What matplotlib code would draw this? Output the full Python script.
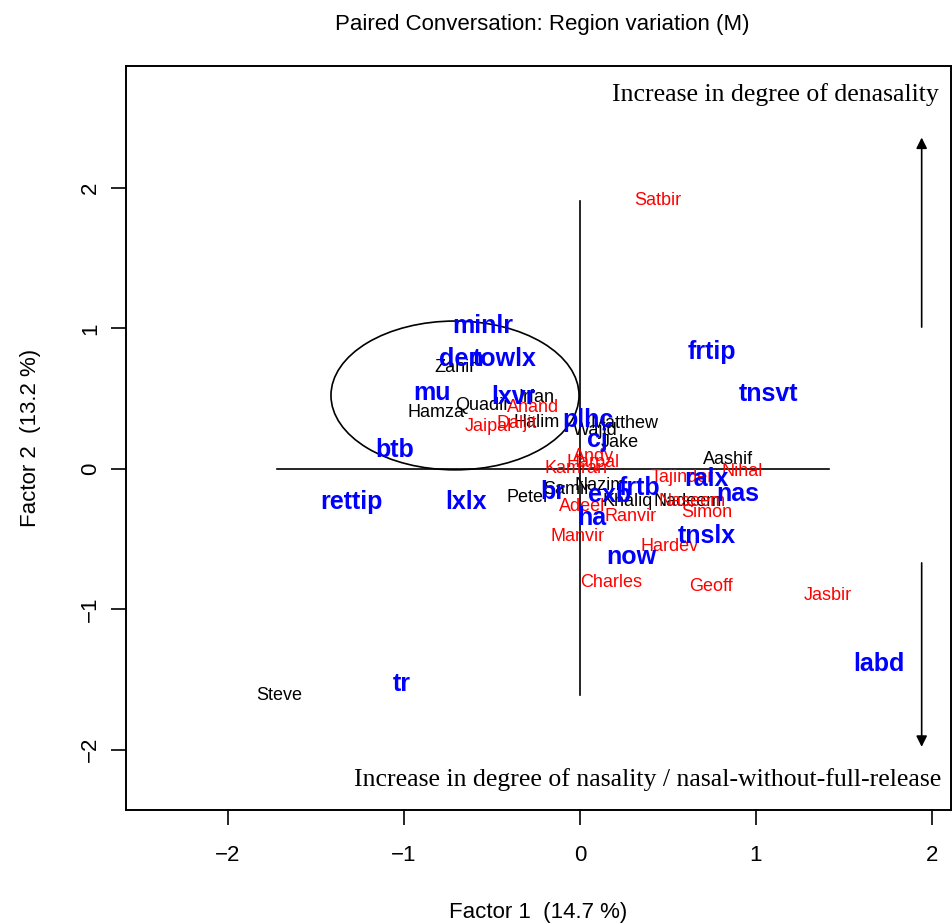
import matplotlib.pyplot as plt
from matplotlib.patches import Ellipse

plt.rcParams['font.family'] = ['Liberation Sans', 'DejaVu Sans']

# variable categories (blue)
var_labels = ["minlr", "den", "towlx", "mu", "lxvr", "btb", "rettip", "lxlx", "tr",
              "labd", "frtip", "tnsvt", "plhc", "cj", "ralx", "nas", "tnslx", "now",
              "ha", "frtb", "br", "exb"]
var_x = [-0.55, -0.675, -0.425, -0.84, -0.38, -1.055, -1.30, -0.65, -1.01,
         1.70, 0.75, 1.07, 0.045, 0.10, 0.72, 0.90, 0.72, 0.295,
         0.07, 0.34, -0.155, 0.17]
var_y = [1.02, 0.78, 0.78, 0.54, 0.51, 0.135, -0.235, -0.235, -1.53,
         -1.39, 0.83, 0.53, 0.35, 0.205, -0.07, -0.18, -0.48, -0.625,
         -0.35, -0.135, -0.165, -0.185]

# speakers, group 1 (black)
black_names = ["Zahir", "Hamza", "Quadir", "Irfan", "Halim", "Wajid", "Matthew", "Jake",
               "Aashif", "Peter", "Samir", "Nazim", "Khaliq", "Nadeem", "Steve"]
black_x = [-0.71, -0.82, -0.555, -0.245, -0.245, 0.085, 0.255, 0.225,
           0.84, -0.295, -0.075, 0.115, 0.27, 0.61, -1.71]
black_y = [0.725, 0.40, 0.45, 0.505, 0.33, 0.27, 0.32, 0.185,
           0.07, -0.205, -0.15, -0.115, -0.235, -0.235, -1.615]

# speakers, group 2 (red)
red_names = ["Satbir", "Anand", "Jaipal", "Daljit", "Andy", "Harpal", "Kamran", "Tajinder",
             "Nihal", "Adeel", "Ranvir", "Simon", "Naseem", "Manvir", "Hardev", "Charles",
             "Geoff", "Jasbir"]
red_x = [0.44, -0.265, -0.52, -0.36, 0.075, 0.075, -0.02, 0.58,
         0.925, 0.015, 0.29, 0.72, 0.635, -0.015, 0.51, 0.175,
         0.745, 1.41]
red_y = [1.91, 0.435, 0.30, 0.32, 0.09, 0.045, 0.005, -0.065,
         -0.02, -0.27, -0.34, -0.31, -0.235, -0.485, -0.55, -0.81,
         -0.84, -0.905]

fig = plt.figure(figsize=(9.52, 9.24), dpi=100)
ax = fig.add_axes([0.1324, 0.1234, 0.8666, 0.8052])
ax.set_xlim(-2.58, 2.11)
ax.set_ylim(-2.43, 2.87)

# cross through the origin
ax.plot([-1.72, 1.415], [0, 0], color='black', lw=1.2)
ax.plot([0, 0], [-1.61, 1.91], color='black', lw=1.2)

# circled cluster
ax.add_patch(Ellipse((-0.71, 0.523), 1.41, 1.06, fill=False, edgecolor='black', lw=1.2))

for name, x, y in zip(black_names, black_x, black_y):
    ax.text(x, y, name, color='black', fontsize=13, ha='center', va='center')
for name, x, y in zip(red_names, red_x, red_y):
    ax.text(x, y, name, color='#ff0000', fontsize=13, ha='center', va='center')
for name, x, y in zip(var_labels, var_x, var_y):
    ax.text(x, y, name, color='#0000ff', fontsize=18, fontweight='bold',
            ha='center', va='center')

# direction arrows
ax.annotate('', xy=(1.943, 2.38), xytext=(1.943, 0.99),
            arrowprops=dict(arrowstyle='-|>', color='black', lw=1.2, mutation_scale=16))
ax.annotate('', xy=(1.943, -2.0), xytext=(1.943, -0.65),
            arrowprops=dict(arrowstyle='-|>', color='black', lw=1.2, mutation_scale=16))

ax.text(2.04, 2.67, "Increase in degree of denasality", family='Liberation Serif',
        fontsize=18.5, ha='right', va='center')
ax.text(2.054, -2.21, "Increase in degree of nasality / nasal-without-full-release",
        family='Liberation Serif', fontsize=18.5, ha='right', va='center')

ax.set_xticks([-2, -1, 0, 1, 2])
ax.set_yticks([-2, -1, 0, 1, 2])
ax.set_xticklabels(["\u22122", "\u22121", "0", "1", "2"])
ax.set_yticklabels(["\u22122", "\u22121", "0", "1", "2"], rotation=90, va='center')
ax.tick_params(length=11, width=1.2, labelsize=16)
ax.tick_params(axis='x', pad=14)
ax.tick_params(axis='y', pad=7)
for s in ax.spines.values():
    s.set_linewidth(1.4)

ax.set_xlabel("Factor 1  (14.7 %)", fontsize=16, labelpad=26)
ax.set_ylabel("Factor 2  (13.2 %)", fontsize=16, labelpad=28)
fig.text(0.57, 0.974, "Paired Conversation: Region variation (M)", fontsize=16,
         ha='center', va='center')

fig.savefig("out.png", dpi=100)
